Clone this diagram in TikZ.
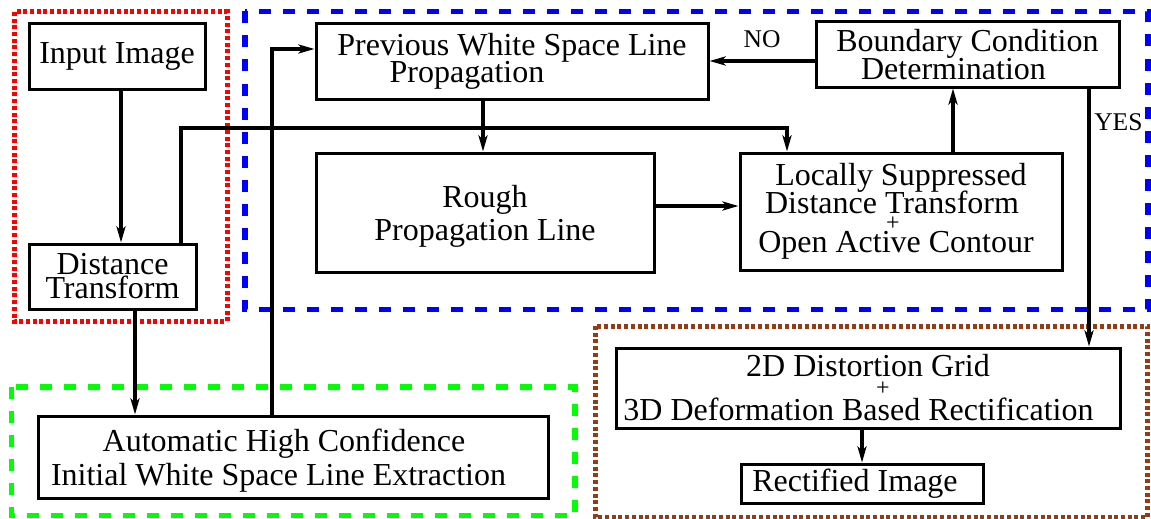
\documentclass[tikz,border=0pt]{standalone}
\usepackage{fontspec}
\setmainfont{Liberation Serif}
\newfontfamily\figfont{Liberation Serif}
\usetikzlibrary{arrows.meta}
\definecolor{framebrown}{RGB}{150,60,20}
\setlength{\lineskiplimit}{-100pt}

\begin{document}
\begin{tikzpicture}
  [x=1pt,y=-1pt,
   every node/.style={font=\figfont\fontsize{32}{28}\selectfont},
   blk/.style n args={2}{draw,line width=3pt,inner sep=0pt,align=center,minimum width=#1,minimum height=#2},
   arr/.style={line width=4.5pt,-{Stealth[length=16pt,width=9pt,inset=4pt]}},
   lbl/.style={font=\figfont\fontsize{25.5}{28}\selectfont,inner sep=2pt},
   dotframe/.style={line width=5pt,dash pattern=on 4pt off 2.7pt},
   dashframe/.style={line width=5.5pt,dash pattern=on 12pt off 12pt}]
  \useasboundingbox (0,0) rectangle (1151,519);

  % group frames
  \draw[dotframe,red] (14,12) rectangle (227,321.5);
  \draw[dashframe,blue] (245,11.5) rectangle (1148,309.5);
  \draw[dashframe,green] (11.5,387) rectangle (575,515.5);
  \draw[dotframe,framebrown] (595,326) rectangle (1147.5,517);

  \node[blk={176}{65}] (input) at (117,56.5) {Input Image};
  \node[blk={167}{65}] (dist) at (112.5,276.5) {Distance\\[-4pt]Transform};
  \node[blk={392}{75}] (prev) at (512,61.5) {Previous White Space Line\\[-1pt]\hspace*{-90pt}Propagation};
  \node[blk={303}{65}] (bound) at (967.5,54.5) {Boundary Condition\\\hspace*{-28pt}Determination};
  \node[blk={338}{119},text depth=0pt] (rough) at (485,212.5) {Rough\\[5pt]Propagation Line};
  \node[blk={322}{117}] (local) at (901,211.5) {Locally Suppressed\\\hspace*{-18pt}Distance Transform\\[-11pt]\hspace*{-16pt}{\fontsize{24}{28}\selectfont +}\\[-6pt]\hspace*{-10pt}Open Active Contour};
  \node[blk={510}{82},text depth=0pt] (ahc) at (293,457) {\hspace*{-18pt}Automatic High Confidence\\[6pt]\hspace*{-29pt}Initial White Space Line Extraction};
  \node[blk={504}{80}] (grid) at (868,388) {2D Distortion Grid\\[-9pt]\hspace*{30pt}{\fontsize{24}{28}\selectfont +}\\[-3pt]\hspace*{-19pt}3D Deformation Based Rectification};
  \node[blk={242}{39}] (rect) at (862,483.5) {\hspace*{-14pt}Rectified Image};

  \foreach \from/\to/\dx in {input/dist/4,dist/ahc/22.5,prev/rough/-29,grid/rect/-6}
    \draw[arr] ([xshift=\dx]\from.south) -- ([xshift=\dx]\from.south |- \to.north);

  \draw[arr] ([xshift=52]local.north) -- ([xshift=52]local.north |- bound.south);
  \draw[arr] ([yshift=6.5]rough.east) -- ([yshift=6.5]rough.east -| local.west);
  \draw[arr] ([yshift=-6.5]bound.west) -- ([yshift=-6.5]bound.west -| prev.east)
    node[lbl,midway,above=9pt] (no) {NO};
  \draw[arr] ([xshift=121.5]bound.south) -- ([xshift=121.5]bound.south |- grid.north)
    node[lbl,pos=0.13,right=1pt] (yes) {YES};
  \draw[arr] ([xshift=-21]ahc.north) |- ([yshift=12.5]prev.west);
  \coordinate (bendy) at (0,128);
  \draw[arr] ([xshift=68.5]dist.north) -- ([xshift=68.5]dist.north |- bendy) -| ([xshift=-114]local.north);

\end{tikzpicture}
\end{document}
